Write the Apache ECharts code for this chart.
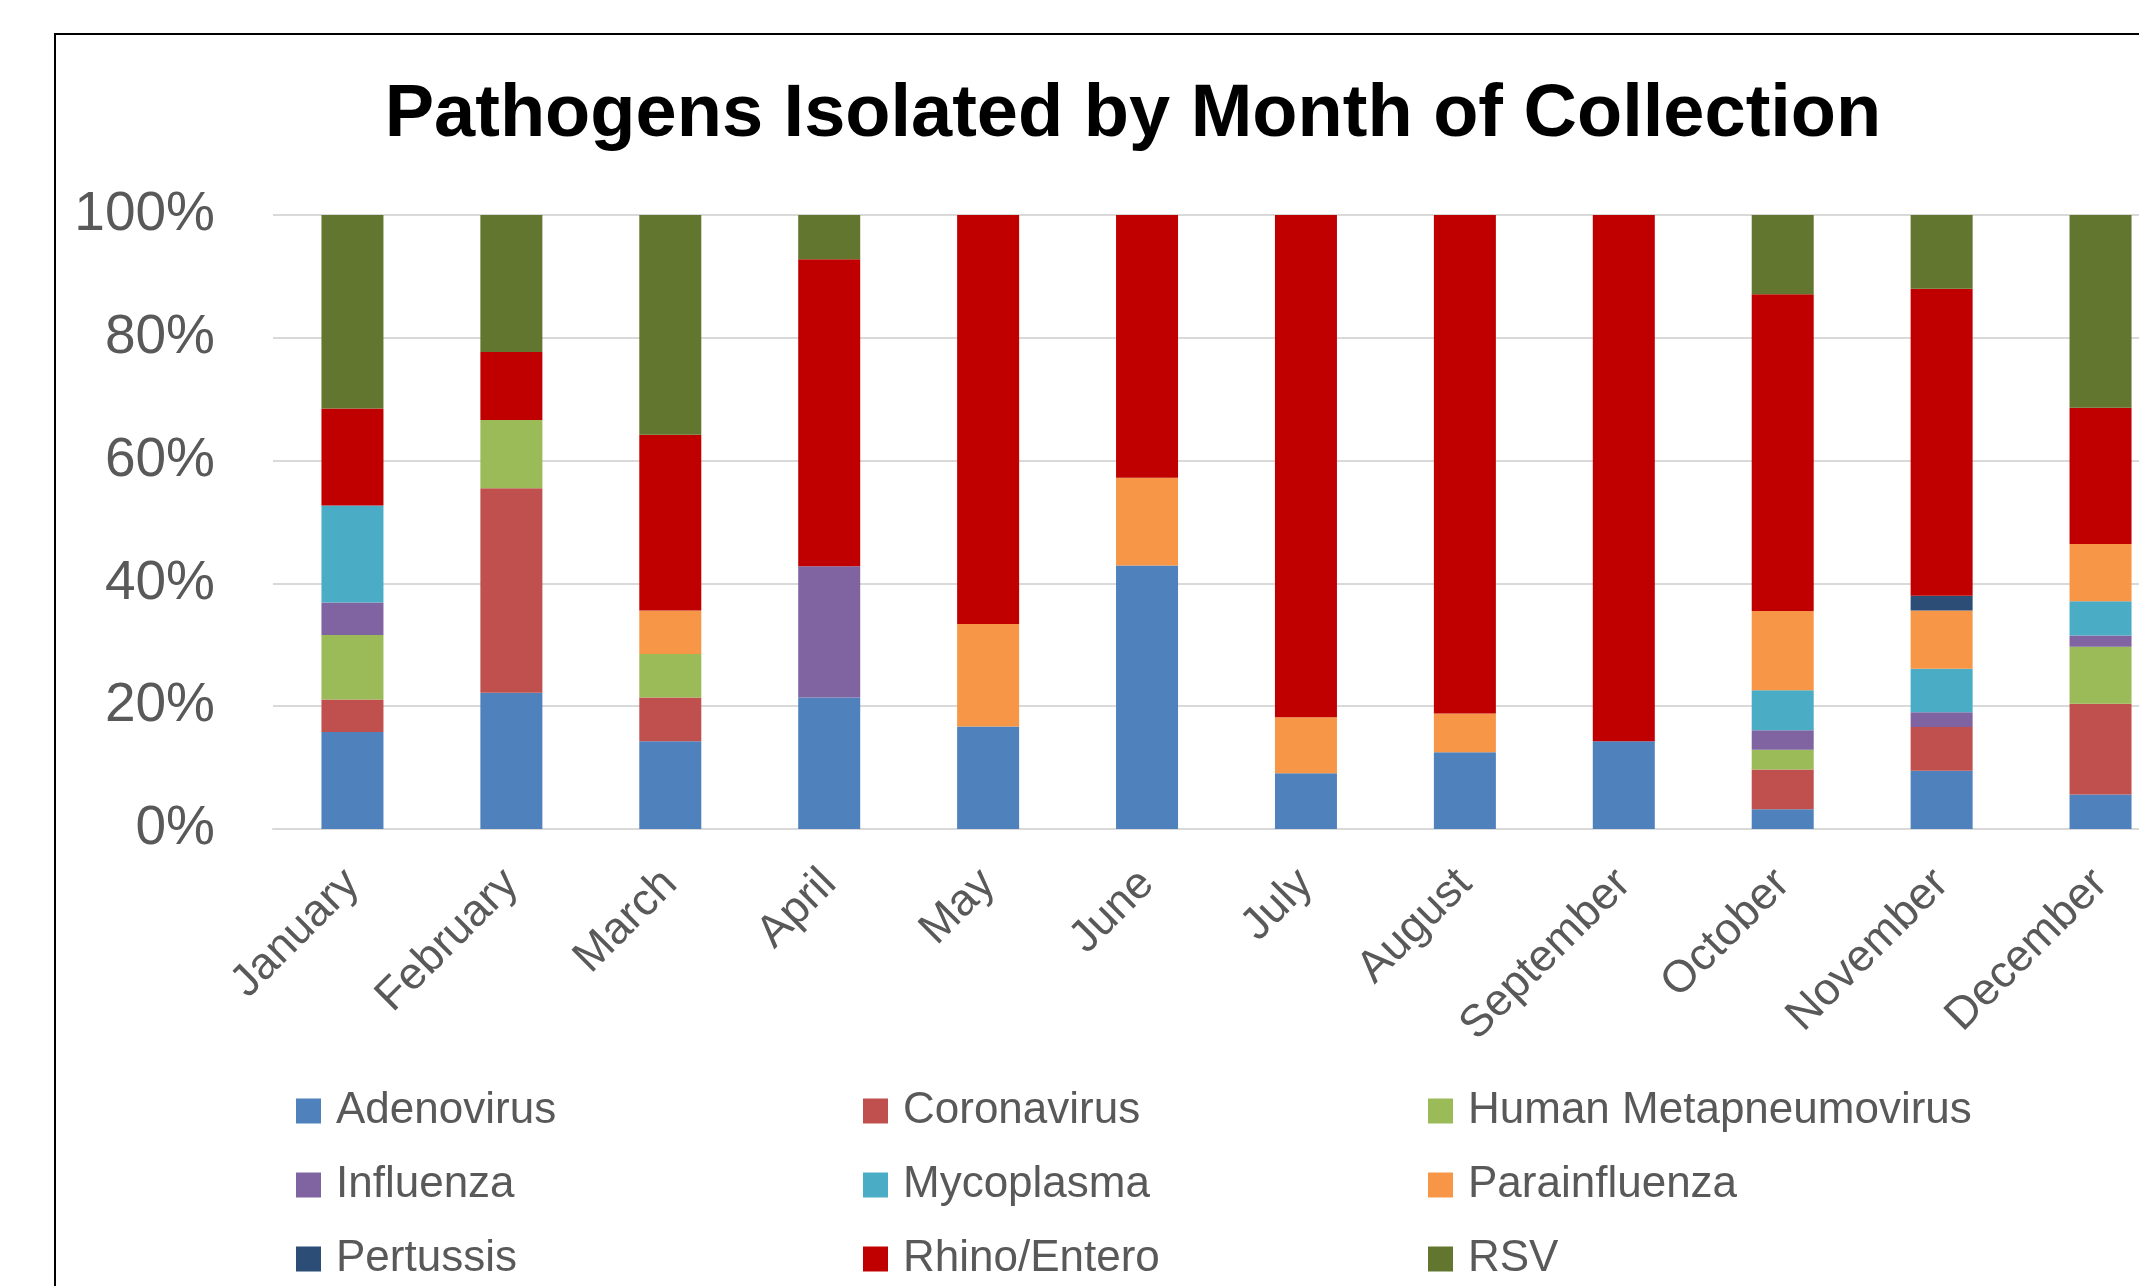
<!DOCTYPE html>
<html>
<head>
<meta charset="utf-8">
<script src="https://cdn.jsdelivr.net/npm/echarts@6/dist/echarts.min.js"></script>
<style>
html,body{margin:0;padding:0;background:#fff;overflow:hidden;}
#chart{width:2180px;height:1286px;}
</style>
</head>
<body>
<div id="chart"></div>
<script>
const months = ['January','February','March','April','May','June','July','August','September','October','November','December'];
const yTicks = [0, 20, 40, 60, 80, 100];
// Percent of isolates per month
const adenovirus    = [15.8, 22.2, 14.3, 21.4, 16.7, 42.9,  9.1, 12.5, 14.3,  3.2,  9.5,  5.6];
const coronavirus   = [ 5.3, 33.3,  7.1,  0,    0,    0,    0,    0,    0,    6.5,  7.1, 14.8];
const hmpv          = [10.5, 11.1,  7.1,  0,    0,    0,    0,    0,    0,    3.2,  0,    9.3];
const influenza     = [ 5.3,  0,    0,   21.4,  0,    0,    0,    0,    0,    3.2,  2.4,  1.8];
const mycoplasma    = [15.8,  0,    0,    0,    0,    0,    0,    0,    0,    6.5,  7.1,  5.6];
const parainfluenza = [ 0,    0,    7.1,  0,   16.7, 14.3,  9.1,  6.3,  0,   12.9,  9.5,  9.3];
const pertussis     = [ 0,    0,    0,    0,    0,    0,    0,    0,    0,    0,    2.4,  0];
const rhinoEntero   = [15.8, 11.1, 28.6, 50.0, 66.6, 42.8, 81.8, 81.2, 85.7, 51.6, 50.0, 22.2];
const rsv           = [31.5, 22.3, 35.8,  7.2,  0,    0,    0,    0,    0,   12.9, 12.0, 31.4];

const seriesNames = ['Adenovirus','Coronavirus','Human Metapneumovirus','Influenza','Mycoplasma','Parainfluenza','Pertussis','Rhino/Entero','RSV'];
const seriesData = [adenovirus, coronavirus, hmpv, influenza, mycoplasma, parainfluenza, pertussis, rhinoEntero, rsv];
const colors = ['#4F81BD','#C0504D','#9BBB59','#8064A2','#4BACC6','#F79646','#2C4D75','#C00000','#62762F'];

const FONT = 'Liberation Sans';
const chart = echarts.init(document.getElementById('chart'));

function legendCol(names, left) {
  return {
    orient: 'vertical', left: left, top: 1086, padding: 0,
    itemWidth: 25, itemHeight: 25, itemGap: 24, icon: 'rect',
    data: names,
    textStyle: { fontFamily: FONT, fontSize: 44, color: '#595959', lineHeight: 50, padding: [0,0,0,10] }
  };
}

chart.setOption({
  animation: false,
  color: colors,
  title: {
    text: 'Pathogens Isolated by Month of Collection',
    left: 1128, top: 76, textAlign: 'center',
    textStyle: { fontFamily: FONT, fontSize: 74, fontWeight: 'bold', color: '#000', lineHeight: 70 }
  },
  graphic: [{
    type: 'rect', silent: true,
    shape: { x: 55, y: 34, width: 2300, height: 1500 },
    style: { fill: 'none', stroke: '#000', lineWidth: 2 }
  }],
  legend: [
    legendCol(['Adenovirus','Influenza','Pertussis'], 296),
    legendCol(['Coronavirus','Mycoplasma','Rhino/Entero'], 863),
    legendCol(['Human Metapneumovirus','Parainfluenza','RSV'], 1428)
  ],
  grid: { left: 273, top: 215, width: 1907, height: 614 },
  xAxis: {
    type: 'category', data: months,
    axisLine: { show: true, lineStyle: { color: '#D9D9D9', width: 2 } },
    axisTick: { show: false },
    axisLabel: { rotate: 45, margin: 48, fontFamily: FONT, fontSize: 45, color: '#595959', interval: 0 }
  },
  yAxis: {
    type: 'value', min: yTicks[0], max: yTicks[yTicks.length-1], interval: 20,
    axisLine: { show: false }, axisTick: { show: false },
    splitLine: { lineStyle: { color: '#D9D9D9', width: 2 } },
    axisLabel: { margin: 58, fontFamily: FONT, fontSize: 55, color: '#595959', formatter: '{value}%' }
  },
  series: seriesNames.map((n, i) => ({
    name: n, type: 'bar', stack: 'total', barWidth: 62,
    data: seriesData[i],
    itemStyle: { color: colors[i] }
  }))
});
</script>
</body>
</html>
